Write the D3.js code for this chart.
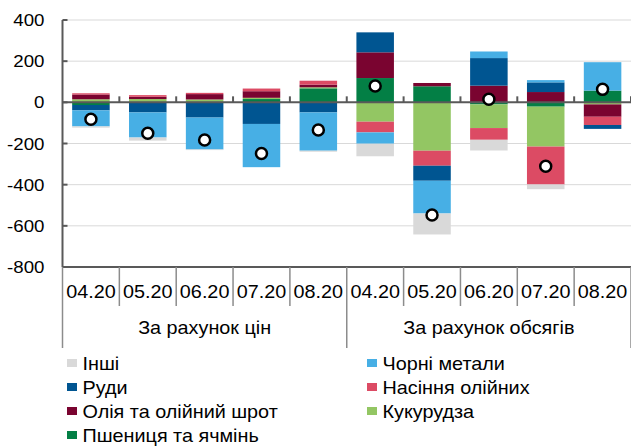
<!DOCTYPE html>
<html>
<head>
<meta charset="utf-8">
<script src="https://cdn.jsdelivr.net/npm/d3@7"></script>
<style>
  body { margin: 0; background: #fff; }
  text { font-family: "Liberation Sans", Arial, sans-serif; fill: #000; }
</style>
</head>
<body>
<svg id="root" width="631" height="448"></svg>
<script>
// months for both groups
const months = ["04.20", "05.20", "06.20", "07.20", "08.20", "04.20", "05.20", "06.20", "07.20", "08.20"];
const groups = ["За рахунок цін", "За рахунок обсягів"];

// series in stacking order (nearest to zero first)
const wheat  = [-13, 0, 0, 16, 68, 118, 78, -10, -21, 57];
const corn   = [15, 16, 14, 6, 5, -94, -235, -115, -194, -10];
const oil    = [23, 11, 26, 32, 13, 125, 16, 81, 50, -60];
const seeds  = [6, 8, 6, 13, 19, -52, -73, -57, -184, -40];
const ores   = [-26, -49, -74, -105, -49, 97, -73, 134, 47, -19];
const metals = [-78, -122, -155, -210, -186, -55, -159, 32, 11, 138];
const other  = [-6, -15, -3, 0, -5, -61, -102, -52, -23, 0];
// net change (markers)
const totals = [-82, -150, -183, -249, -134, 79, -547, 15, -311, 63];

const seriesKeys = ["wheat", "corn", "oil", "seeds", "ores", "metals", "other"];
const seriesNames = {
  other: "Інші", metals: "Чорні метали", ores: "Руди", seeds: "Насіння олійних",
  oil: "Олія та олійний шрот", corn: "Кукурудза", wheat: "Пшениця та ячмінь"
};
const colors = {
  other: "#d9d9d9", metals: "#47afe5", ores: "#005591", seeds: "#dc4b64",
  oil: "#7a0430", corn: "#93c663", wheat: "#037f45"
};
const legendOrder = ["other", "metals", "ores", "seeds", "oil", "corn", "wheat"];
const yTicks = [400, 200, 0, -200, -400, -600, -800];

const svg = d3.select("#root");
const SX = 1.1; // glyphs in the source are a bit wider than Arial

const plotL = 62.5, plotR = 631, plotT = 20, plotB = 267;

const rows = months.map((m, i) => ({
  idx: i, wheat: wheat[i], corn: corn[i], oil: oil[i], seeds: seeds[i],
  ores: ores[i], metals: metals[i], other: other[i], total: totals[i]
}));

const x = d3.scaleBand().domain(d3.range(months.length)).range([plotL, plotR]);
const y = d3.scaleLinear().domain([-800, 400]).range([plotB, plotT]);
const barW = x.bandwidth() * 0.66;

function label(g, px, py, s, anchor, size) {
  return g.append("text")
    .attr("transform", `translate(${px},${py}) scale(${SX},1)`)
    .attr("text-anchor", anchor)
    .style("font-size", size + "px")
    .text(s);
}

// gridlines
svg.append("g").selectAll("line")
  .data(yTicks.filter(d => d !== 0 && d !== -800))
  .enter().append("line")
  .attr("x1", plotL).attr("x2", plotR)
  .attr("y1", d => y(d)).attr("y2", d => y(d))
  .attr("stroke", "#d9d9d9").attr("stroke-width", 1);

// stacked bars
const stacked = d3.stack().keys(seriesKeys).offset(d3.stackOffsetDiverging)(rows);

svg.append("g").selectAll("g")
  .data(stacked)
  .enter().append("g")
  .attr("fill", d => colors[d.key])
  .selectAll("rect")
  .data(d => d)
  .enter().append("rect")
  .attr("x", d => x(d.data.idx) + (x.bandwidth() - barW) / 2)
  .attr("width", barW)
  .attr("y", d => y(Math.max(d[0], d[1])))
  .attr("height", d => Math.abs(y(d[0]) - y(d[1])));

// zero line + ticks
const zeroY = y(0);
svg.append("line")
  .attr("x1", plotL).attr("x2", plotR).attr("y1", zeroY).attr("y2", zeroY)
  .attr("stroke", "#595959").attr("stroke-width", 2);
svg.append("g").selectAll("line")
  .data(d3.range(1, months.length + 1))
  .enter().append("line")
  .attr("x1", i => x.step() * i + plotL).attr("x2", i => x.step() * i + plotL)
  .attr("y1", zeroY - 6).attr("y2", zeroY)
  .attr("stroke", "#595959").attr("stroke-width", 2);

// y axis
svg.append("line")
  .attr("x1", plotL).attr("x2", plotL).attr("y1", plotT).attr("y2", plotB)
  .attr("stroke", "#595959").attr("stroke-width", 2);
const yg = svg.append("g");
yTicks.forEach(t => {
  yg.append("line")
    .attr("x1", plotL).attr("x2", plotL + 5).attr("y1", y(t)).attr("y2", y(t))
    .attr("stroke", "#595959").attr("stroke-width", 2);
  label(yg, 44.5, y(t) + 6, t, "end", 17);
});

// bottom category axis
svg.append("line")
  .attr("x1", plotL).attr("x2", plotR).attr("y1", plotB).attr("y2", plotB)
  .attr("stroke", "#595959").attr("stroke-width", 2);
const xg = svg.append("g");
d3.range(months.length + 1).forEach(i => {
  const bx = plotL + x.step() * i;
  const isGroup = i % 5 === 0;
  xg.append("line")
    .attr("x1", bx).attr("x2", bx)
    .attr("y1", plotB).attr("y2", isGroup ? 348 : 306)
    .attr("stroke", "#8c8c8c").attr("stroke-width", 1.5);
});
months.forEach((m, i) => {
  label(xg, x(i) + x.bandwidth() / 2, 298, m, "middle", 18);
});
groups.forEach((gname, gi) => {
  const cx = plotL + x.step() * (gi * 5 + 2.5);
  label(xg, cx, 334, gname, "middle", 18);
});

// net markers
svg.append("g").selectAll("circle")
  .data(rows)
  .enter().append("circle")
  .attr("cx", d => x(d.idx) + x.bandwidth() / 2)
  .attr("cy", d => y(d.total))
  .attr("r", 5.5)
  .attr("fill", "#fff")
  .attr("stroke", "#000")
  .attr("stroke-width", 2.5);

// legend, two columns filled row by row
const lg = svg.append("g");
legendOrder.forEach((k, i) => {
  const col = i % 2, row = Math.floor(i / 2);
  const lx = col === 0 ? 67 : 367;
  const ly = 370 + row * 24;
  lg.append("rect")
    .attr("x", lx).attr("y", ly - 11).attr("width", 10).attr("height", 8)
    .attr("fill", colors[k]);
  label(lg, lx + 15.5, ly, seriesNames[k], "start", 18);
});
</script>
</body>
</html>
